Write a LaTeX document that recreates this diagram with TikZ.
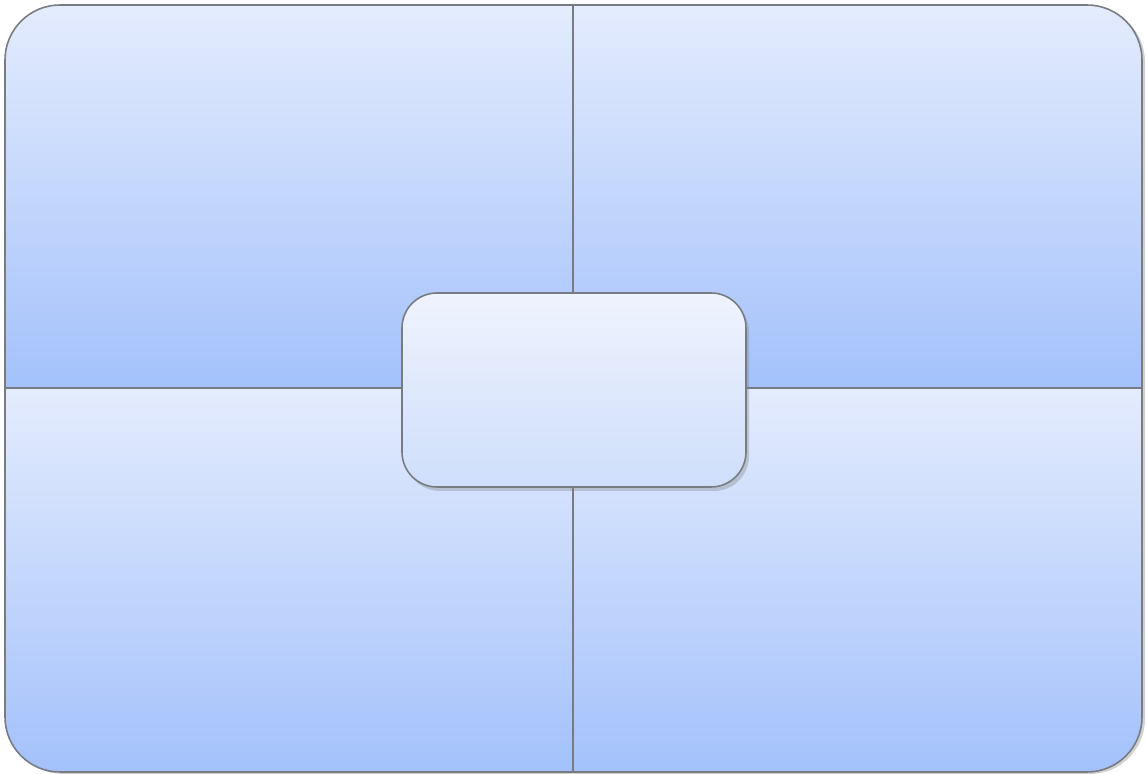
\documentclass[tikz,border=0pt]{standalone}
\usepackage{xcolor}
\usepackage{tikz}
\usetikzlibrary{positioning,shadows,calc}
\definecolor{quadtop}{RGB}{228,236,253}
\definecolor{quadbot}{RGB}{163,193,251}
\definecolor{hubtop}{RGB}{239,243,253}
\definecolor{hubbot}{RGB}{206,222,251}
\definecolor{edgegray}{RGB}{120,124,130}

\begin{document}
\begin{tikzpicture}[
  quad/.style={top color=quadtop,bottom color=quadbot,draw=none},
  divider/.style={draw=edgegray,line width=0.8pt},
  hub/.style={draw=edgegray,line width=0.9pt,rounded corners=0.7cm,minimum width=6.88cm,minimum height=3.88cm,top color=hubtop,bottom color=hubbot,drop shadow={shadow xshift=0.06cm,shadow yshift=-0.08cm,opacity=0.35}},
]
\useasboundingbox (0,0) rectangle (22.94,15.48);
% outer frame
\coordinate (sw) at (0.10,0.04);
\coordinate (ne) at (22.84,15.38);
\coordinate (mid) at (11.46,7.72);
\fill[black,opacity=0.18,rounded corners=1.1cm] ($(sw)+(0.06,-0.04)$) rectangle ($(ne)+(0.06,-0.04)$);
\begin{scope}
  \clip[rounded corners=1.1cm] (sw) rectangle (ne);
  \fill[quad] (sw |- mid) rectangle (mid |- ne);
  \fill[quad] (mid) rectangle (ne);
  \fill[quad] (sw) rectangle (mid);
  \fill[quad] (mid |- sw) rectangle (ne |- mid);
  \draw[divider] (sw |- mid) -- (ne |- mid);
  \draw[divider] (mid |- sw) -- (mid |- ne);
\end{scope}
\draw[edgegray,line width=0.9pt,rounded corners=1.1cm] (sw) rectangle (ne);
% centre box
\node[hub] (hub) at (11.48,7.68) {};
\end{tikzpicture}
\end{document}
